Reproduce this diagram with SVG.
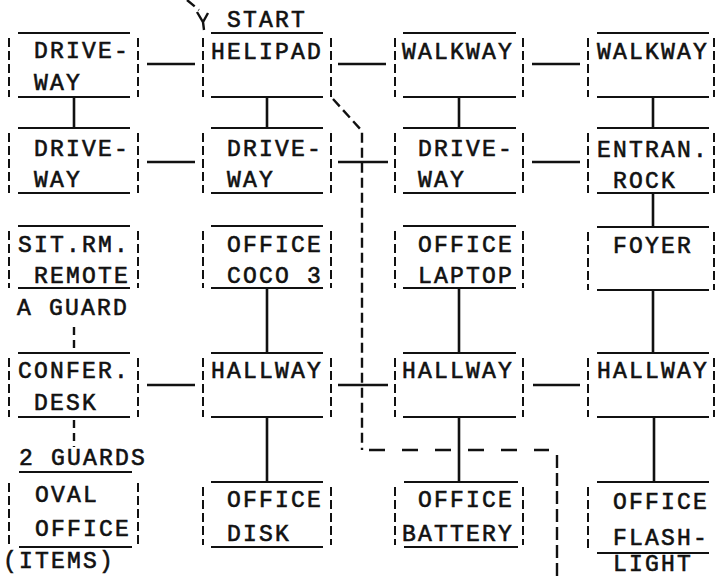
<svg xmlns="http://www.w3.org/2000/svg" width="716" height="578" viewBox="0 0 716 578">
<style>
text{font-family:"Liberation Mono","Courier New",monospace;font-size:23px;letter-spacing:2.2px;fill:#111;stroke:#111;stroke-width:0.6}
.u{stroke:#111;stroke-width:2.2;fill:none}
.s{stroke:#111;stroke-width:2;stroke-dasharray:9 4;fill:none}
.c{stroke:#111;stroke-width:2.6;fill:none}
.cd{stroke:#111;stroke-width:2.4;stroke-dasharray:8 5;fill:none}
.p{stroke:#111;stroke-width:2.4;fill:none}
</style>
<rect width="716" height="578" fill="#fff"/>
<g id="connectors">
<path class="c" d="M147,64H195M338,64H386M532,64H580M147,162H195M338,162H388M532,162H580M147,385H195M338,385H388M533,385H580"/>
<path class="c" d="M74,97V128M267,97V128M459,97V128M653,97V128M653,193V226M267,288V353M459,288V353M653,290V353M267,417V482M459,417V482M654,417V482"/>
<path class="cd" d="M74,327V352M74,420V447"/>
<path class="p" stroke-dasharray="10 5" d="M187,0L199,10"/>
<path class="p" d="M197,12L203,22L208,13M203,22L204,30"/>
<path class="p" stroke-dasharray="10 5" d="M333,99L362,131V450"/>
<path class="p" stroke-dasharray="16 17" d="M369,450H549"/>
<path class="p" stroke-dasharray="13 5" d="M557,455V578"/>
</g>
<g id="n-driveway-1">
<path class="u" d="M18,33H130M18,97H130"/><path class="s" d="M9,38V97M138,38V97"/>
<text x="34" y="58">DRIVE-</text><text x="34" y="90">WAY</text>
</g>
<g id="n-helipad">
<text x="227" y="27">START</text>
<path class="u" d="M211,33H323M211,97H323"/><path class="s" d="M203,38V97M331,38V97"/>
<text x="211" y="59">HELIPAD</text>
</g>
<g id="n-walkway-1">
<path class="u" d="M403,33H516M403,97H516"/><path class="s" d="M395,38V97M523,38V97"/>
<text x="402" y="59">WALKWAY</text>
</g>
<g id="n-walkway-2">
<path class="u" d="M597,33H709M597,97H709"/><path class="s" d="M588,38V97M714,38V97"/>
<text x="597" y="59">WALKWAY</text>
</g>
<g id="n-driveway-2">
<path class="u" d="M18,128H130M18,193H130"/><path class="s" d="M9,133V193M138,133V193"/>
<text x="34" y="156">DRIVE-</text><text x="34" y="187">WAY</text>
</g>
<g id="n-driveway-3">
<path class="u" d="M211,128H323M211,193H323"/><path class="s" d="M203,133V193M331,133V193"/>
<text x="227" y="156">DRIVE-</text><text x="227" y="187">WAY</text>
</g>
<g id="n-driveway-4">
<path class="u" d="M403,128H516M403,193H516"/><path class="s" d="M395,133V193M523,133V193"/>
<text x="418" y="156">DRIVE-</text><text x="418" y="187">WAY</text>
</g>
<g id="n-entran-rock">
<path class="u" d="M597,128H709M597,193H709"/><path class="s" d="M588,133V193M714,133V193"/>
<text x="597" y="157">ENTRAN.</text><text x="613" y="188">ROCK</text>
</g>
<g id="n-sitrm">
<path class="u" d="M18,226H130M18,288H130"/><path class="s" d="M9,231V288M138,231V288"/>
<text x="18" y="252">SIT.RM.</text><text x="34" y="283">REMOTE</text>
<text x="17" y="315">A GUARD</text>
</g>
<g id="n-office-coco">
<path class="u" d="M211,226H323M211,288H323"/><path class="s" d="M203,231V288M331,231V288"/>
<text x="227" y="252">OFFICE</text><text x="227" y="283">COCO 3</text>
</g>
<g id="n-office-laptop">
<path class="u" d="M403,226H516M403,288H516"/><path class="s" d="M395,231V288M523,231V288"/>
<text x="418" y="252">OFFICE</text><text x="418" y="283">LAPTOP</text>
</g>
<g id="n-foyer">
<path class="u" d="M597,227H709M597,290H709"/><path class="s" d="M588,232V290M714,232V290"/>
<text x="613" y="253">FOYER</text>
</g>
<g id="n-confer">
<path class="u" d="M18,353H130M18,417H130"/><path class="s" d="M9,358V417M138,358V417"/>
<text x="18" y="378">CONFER.</text><text x="34" y="410">DESK</text>
</g>
<g id="n-hallway-1">
<path class="u" d="M211,353H323M211,417H323"/><path class="s" d="M203,358V417M331,358V417"/>
<text x="211" y="378">HALLWAY</text>
</g>
<g id="n-hallway-2">
<path class="u" d="M403,353H516M403,417H516"/><path class="s" d="M395,358V417M523,358V417"/>
<text x="402" y="378">HALLWAY</text>
</g>
<g id="n-hallway-3">
<path class="u" d="M597,353H709M597,417H709"/><path class="s" d="M588,358V417M714,358V417"/>
<text x="597" y="378">HALLWAY</text>
</g>
<g id="n-oval-office">
<text x="19" y="465">2 GUARDS</text>
<path class="u" d="M19,472H132M19,547H132"/><path class="s" d="M9,483V545M138,483V545"/>
<text x="35" y="502">OVAL</text><text x="35" y="536">OFFICE</text>
<text x="3" y="568">(ITEMS)</text>
</g>
<g id="n-office-disk">
<path class="u" d="M211,482H323M211,547H323"/><path class="s" d="M203,487V545M331,487V545"/>
<text x="227" y="507">OFFICE</text><text x="227" y="541">DISK</text>
</g>
<g id="n-office-battery">
<path class="u" d="M404,482H518M404,547H518"/><path class="s" d="M395,487V545M523,487V545"/>
<text x="418" y="507">OFFICE</text><text x="402" y="541">BATTERY</text>
</g>
<g id="n-office-flashlight">
<path class="u" d="M597,482H709M597,553H709"/><path class="s" d="M588,487V550"/>
<text x="613" y="509">OFFICE</text><text x="613" y="545">FLASH-</text>
<text x="613" y="571">LIGHT</text>
</g>
</svg>
